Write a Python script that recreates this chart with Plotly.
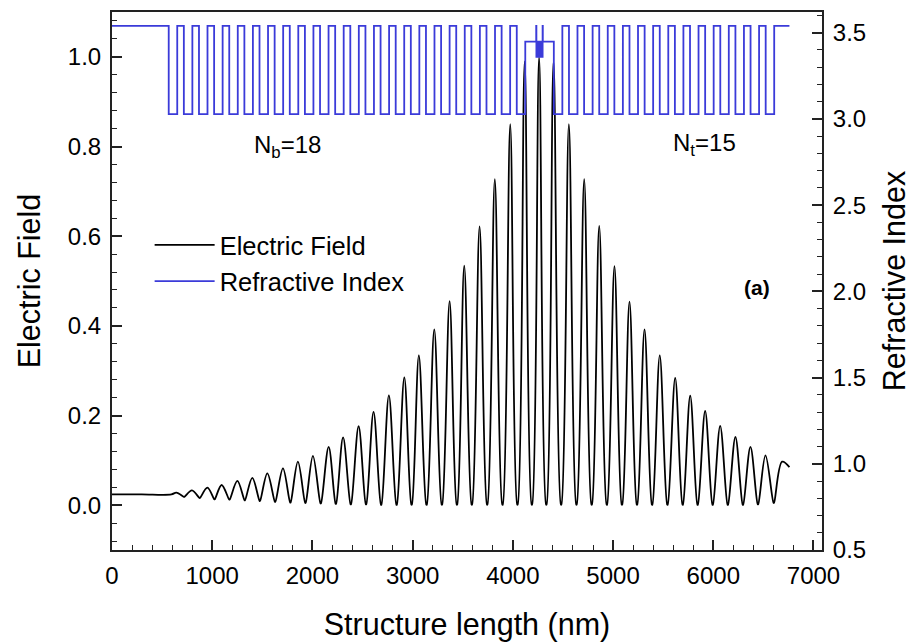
import plotly.graph_objects as go

# ---------------- Electric field ----------------
FLAT_LEVEL = 0.024      # field level in the substrate region
FLAT_END = 593          # nm, where the oscillation starts
PEAK_X = [642, 798, 952, 1094, 1251, 1400, 1550, 1706, 1855, 2005, 2162, 2306,
          2461, 2610, 2763, 2917, 3062, 3216, 3369, 3515, 3668, 3820, 3974,
          4118, 4262, 4406,
          4559, 4712, 4862, 5014, 5164, 5314, 5466, 5620, 5770, 5919, 6069,
          6221, 6371, 6521, 6687]
PEAK_Y = [0.028, 0.033, 0.039, 0.045, 0.054, 0.061, 0.071, 0.082, 0.097, 0.110,
          0.130, 0.151, 0.176, 0.208, 0.245, 0.285, 0.334, 0.392, 0.455, 0.534,
          0.622, 0.727, 0.850,
          0.990, 1.000, 0.990,
          0.850, 0.727, 0.623, 0.533, 0.454, 0.392, 0.334, 0.284, 0.244, 0.210,
          0.177, 0.152, 0.130, 0.111, 0.097]
VALLEY_X = [720, 875, 1023, 1172, 1325, 1475, 1628, 1780, 1930, 2083, 2234, 2383,
            2535, 2686, 2840, 2990, 3139, 3292, 3442, 3591, 3744, 3897, 4046,
            4190, 4334, 4482, 4635, 4787, 4938, 5089, 5239, 5390, 5543, 5695,
            5844, 5994, 6145, 6296, 6446, 6604]
VALLEY_Y = [0.0185, 0.016, 0.013, 0.0125, 0.011, 0.0095, 0.0075, 0.006, 0.005,
            0.004, 0.003, 0.002, 0.002, 0.001, 0.001, 0.001, 0.001, 0.001, 0.001,
            0.001, 0.001, 0.001, 0.001, 0.001, 0.001, 0.001, 0.001, 0.001, 0.001,
            0.001, 0.001, 0.001, 0.001, 0.001, 0.001, 0.001, 0.001, 0.001, 0.002,
            0.005]
END_X = 6760
END_Y = 0.085

# ---------------- Refractive-index layer stack ----------------
N_HIGH = 3.539
N_LOW = 3.028
N_CAV = 3.448
N_QW = 3.36
SUBSTRATE_T = 566
D_LOW = 85
D_HIGH = 66
BOTTOM_HIGH_LAYERS = 23
TOP_HIGH_LAYERS = 14
CAP_T = 152
# cavity internal layers: (thickness nm, index)
CAVITY_LAYERS = [(109, N_CAV), (2, N_HIGH),
                 (7, N_QW), (6.75, N_CAV), (7, N_QW), (6.75, N_CAV), (7, N_QW),
                 (6.75, N_CAV), (7, N_QW), (6.75, N_CAV), (7, N_QW),
                 (2, N_HIGH), (110, N_CAV)]

# tick labels / texts
X_TICKS = [0, 1000, 2000, 3000, 4000, 5000, 6000, 7000]
Y_TICKS = [0.0, 0.2, 0.4, 0.6, 0.8, 1.0]
Y2_TICKS = [0.5, 1.0, 1.5, 2.0, 2.5, 3.0, 3.5]

# build layer list
layers = [(SUBSTRATE_T, N_HIGH)]
for _ in range(BOTTOM_HIGH_LAYERS):
    layers += [(D_LOW, N_LOW), (D_HIGH, N_HIGH)]
layers.append((D_LOW, N_LOW))
layers += CAVITY_LAYERS
for _ in range(TOP_HIGH_LAYERS):
    layers += [(D_LOW, N_LOW), (D_HIGH, N_HIGH)]
layers.append((D_LOW, N_LOW))
layers.append((CAP_T, N_HIGH))

n_x, n_y = [], []
pos = 0.0
for t, n in layers:
    n_x.append(pos)
    n_y.append(n)
    pos += t
n_x.append(pos)
n_y.append(layers[-1][1])

# build field path: flat part, then peaks with sharp (doubled) valleys
DELTA = 2.5
e_x = [0, FLAT_END * 0.5, FLAT_END]
e_y = [FLAT_LEVEL, FLAT_LEVEL, FLAT_LEVEL]
for i, (px, py) in enumerate(zip(PEAK_X, PEAK_Y)):
    e_x.append(px)
    e_y.append(py)
    if i < len(VALLEY_X):
        e_x += [VALLEY_X[i] - DELTA, VALLEY_X[i] + DELTA]
        e_y += [VALLEY_Y[i], VALLEY_Y[i]]
e_x.append(END_X)
e_y.append(END_Y)

FONT = "Arial, Liberation Sans, sans-serif"

fig = go.Figure()
fig.add_trace(go.Scatter(x=e_x, y=e_y, mode="lines", name="Electric Field",
                         line=dict(color="black", width=1.8, shape="spline", smoothing=1.0),
                         yaxis="y"))
fig.add_trace(go.Scatter(x=n_x, y=n_y, mode="lines", name="Refractive Index",
                         line=dict(color="#3b3bd9", width=1.8, shape="hv"),
                         yaxis="y2"))

axis_common = dict(showgrid=False, zeroline=False, showline=True, linecolor="#222",
                   linewidth=2, ticks="inside", ticklen=10, tickwidth=1.6, tickcolor="#222",
                   automargin=False,
                   tickfont=dict(family=FONT, size=24, color="black"))

fig.update_layout(
    width=916, height=644,
    margin=dict(l=112, r=94, t=12, b=94),
    paper_bgcolor="white", plot_bgcolor="white",
    font=dict(family=FONT, color="black"),
    xaxis=dict(range=[0, 7085], tickvals=X_TICKS,
               mirror=True,
               minor=dict(dtick=200, ticks="inside", ticklen=5, tickwidth=1.4, tickcolor="#222"),
               title=dict(text="Structure length (nm)", font=dict(family=FONT, size=30.5),
                          standoff=26),
               ticklabelstandoff=3,
               **axis_common),
    yaxis=dict(range=[-0.1, 1.1], tickvals=Y_TICKS,
               tickformat=".1f",
               minor=dict(dtick=0.04, tick0=0, ticks="inside", ticklen=5, tickwidth=1.4,
                          tickcolor="#222"),
               title=dict(text="Electric Field", font=dict(family=FONT, size=30.5), standoff=18),
               ticklabelstandoff=4,
               **axis_common),
    yaxis2=dict(range=[0.5, 3.62], tickvals=Y2_TICKS,
                tickformat=".1f", overlaying="y", side="right",
                minor=dict(dtick=0.1, tick0=0.5, ticks="inside", ticklen=5, tickwidth=1.4,
                           tickcolor="#222"),
                title=dict(text="Refractive Index", font=dict(family=FONT, size=30.5), standoff=18),
                ticklabelstandoff=4,
                **axis_common),
    showlegend=True,
    legend=dict(x=0.053, y=0.61, xanchor="left", yanchor="top",
                bgcolor="rgba(0,0,0,0)", borderwidth=0,
                font=dict(family=FONT, size=25.5, color="black"),
                itemwidth=60, tracegroupgap=0),
    annotations=[
        dict(text="N<sub>b</sub>=18", x=1750, y=0.80, xref="x", yref="y",
             showarrow=False, font=dict(family=FONT, size=24, color="black")),
        dict(text="N<sub>t</sub>=15", x=5910, y=0.805, xref="x", yref="y",
             showarrow=False, font=dict(family=FONT, size=24, color="black")),
        dict(text="<b>(a)</b>", x=6440, y=0.485, xref="x", yref="y",
             showarrow=False, font=dict(family=FONT, size=21, color="black")),
    ],
)

fig.write_html("out.html")
